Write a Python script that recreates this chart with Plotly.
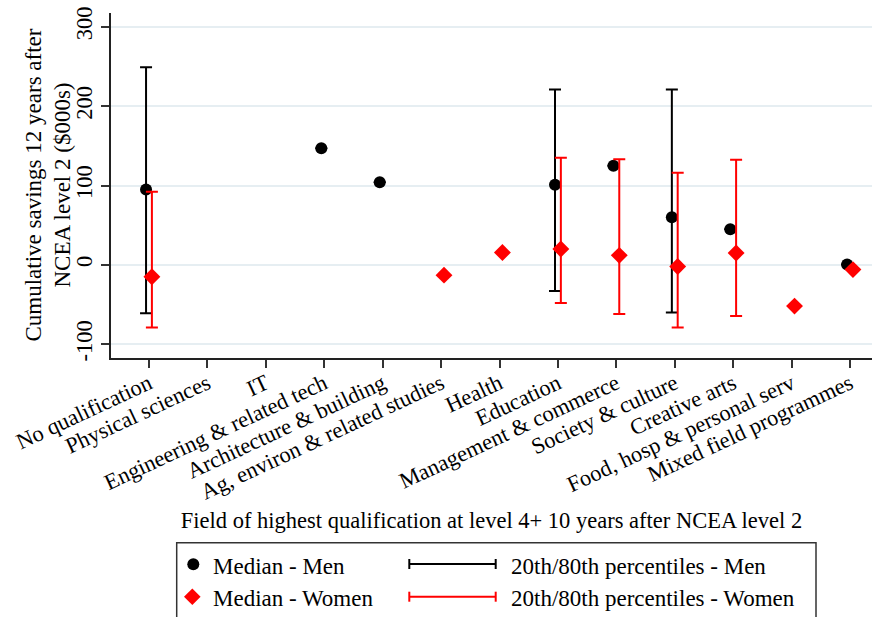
import plotly.graph_objects as go

categories = [
    "No qualification", "Physical sciences", "IT", "Engineering & related tech",
    "Architecture & building", "Ag, environ & related studies", "Health", "Education",
    "Management & commerce", "Society & culture", "Creative arts",
    "Food, hosp & personal serv", "Mixed field programmes",
]
men_median = [95, None, None, 147, 104, None, None, 101, 125, 60, 45, None, 0.5]
men_p20 = [-61, None, None, None, None, None, None, -33, None, -60, None, None, None]
men_p80 = [249, None, None, None, None, None, None, 221, None, 221, None, None, None]
women_median = [-15, None, None, None, None, -13, 15.5, 20, 12, -2, 15, -52, -6]
women_p20 = [-79, None, None, None, None, None, None, -48, -62, -79, -64.5, None, None]
women_p80 = [92, None, None, None, None, None, None, 135, 133, 116, 132.5, None, None]
ytick_vals = [-100, 0, 100, 200, 300]
ytick_text = ["-100", "0", "100", "200", "300"]

FONT = "Liberation Serif, Times New Roman, serif"
W, H = 872, 617
L, R, T, B = 111, 0, 13, 259
PW, PH = W - L - R, H - T - B


def px_x(px):
    return (px - L) / PW


def px_y(py):
    return (T + PH - py) / PH


def err(med, lo, hi):
    plus, minus = [], []
    for m, a, b in zip(med, lo, hi):
        if m is None or a is None or b is None:
            plus.append(None)
            minus.append(None)
        else:
            plus.append(b - m)
            minus.append(m - a)
    return plus, minus


xpos = list(range(1, len(categories) + 1))
men_x = [i - 0.05 for i in xpos]
women_x = [i + 0.05 for i in xpos]

mp, mm = err(men_median, men_p20, men_p80)
wp, wm = err(women_median, women_p20, women_p80)

fig = go.Figure()
fig.add_trace(go.Scatter(
    x=men_x, y=men_median, mode="markers", name="Median - Men",
    marker=dict(symbol="circle", size=12, color="black"),
    error_y=dict(type="data", array=mp, arrayminus=mm, symmetric=False,
                 color="black", thickness=2, width=6),
    showlegend=False,
))
fig.add_trace(go.Scatter(
    x=women_x, y=women_median, mode="markers", name="Median - Women",
    marker=dict(symbol="diamond", size=13, color="#ff0000"),
    error_y=dict(type="data", array=wp, arrayminus=wm, symmetric=False,
                 color="#ff0000", thickness=2, width=6),
    showlegend=False,
))

fig.update_layout(
    width=W, height=H,
    margin=dict(l=L, r=R, t=T, b=B, autoexpand=False),
    paper_bgcolor="white", plot_bgcolor="white",
    font=dict(family=FONT, size=23, color="black"),
    showlegend=False,
)
fig.update_xaxes(
    range=[0.35, 13.376], tickmode="array", tickvals=xpos, ticktext=categories,
    tickangle=-25, ticks="outside", ticklen=8, tickwidth=1.5, tickcolor="#333",
    ticklabelstandoff=-6,
    showline=True, linecolor="#222", linewidth=1.5, showgrid=False, zeroline=False,
    tickfont=dict(size=22.5, family=FONT),
    title=dict(text="Field of highest qualification at level 4+ 10 years after NCEA level 2",
               font=dict(size=22.5, family=FONT), standoff=9),
    automargin=False,
)
fig.update_yaxes(
    range=[-117.4, 317.4], tickmode="array", tickvals=ytick_vals, ticktext=ytick_text,
    tickangle=-90, ticks="outside", ticklen=8, tickwidth=1.5, tickcolor="#333",
    showline=True, linecolor="#222", linewidth=1.5,
    showgrid=True, gridcolor="#e6eef2", gridwidth=2, zeroline=False,
    tickfont=dict(size=22.5, family=FONT),
    automargin=False,
)

shapes = []
shapes.append(dict(type="rect", xref="paper", yref="paper",
                   x0=px_x(176.7), x1=px_x(816), y0=px_y(642), y1=px_y(542.7),
                   line=dict(color="#333", width=1.5), fillcolor="rgba(0,0,0,0)"))
cx, cy, r = 193.3, 564.3, 6
shapes.append(dict(type="circle", xref="paper", yref="paper",
                   x0=px_x(cx - r), x1=px_x(cx + r), y0=px_y(cy + r), y1=px_y(cy - r),
                   fillcolor="black", line=dict(color="black", width=0)))
dx, dy, d = 192.3, 596.7, 8.3
path = (f"M {px_x(dx - d)},{px_y(dy)} L {px_x(dx)},{px_y(dy - d)} "
        f"L {px_x(dx + d)},{px_y(dy)} L {px_x(dx)},{px_y(dy + d)} Z")
shapes.append(dict(type="path", xref="paper", yref="paper", path=path,
                   fillcolor="#ff0000", line=dict(color="#ff0000", width=0)))
for yy, col in [(564.0, "black"), (596.7, "#ff0000")]:
    shapes.append(dict(type="line", xref="paper", yref="paper",
                       x0=px_x(409.3), x1=px_x(495.7), y0=px_y(yy), y1=px_y(yy),
                       line=dict(color=col, width=2)))
    for xx in (409.3, 495.7):
        shapes.append(dict(type="line", xref="paper", yref="paper",
                           x0=px_x(xx), x1=px_x(xx), y0=px_y(yy - 5), y1=px_y(yy + 5),
                           line=dict(color=col, width=2)))

annotations = [dict(text="Cumulative savings 12 years after<br>NCEA level 2 ($000s)",
                    xref="paper", yref="paper", x=px_x(48), y=px_y(185.5),
                    xanchor="center", yanchor="middle", textangle=-90, showarrow=False,
                    font=dict(size=23, family=FONT, color="black"))]
for text, x, y in [("Median - Men", 210.7, 566), ("Median - Women", 210.7, 598),
                   ("20th/80th percentiles - Men", 509.3, 566),
                   ("20th/80th percentiles - Women", 509.3, 598)]:
    annotations.append(dict(text=text, xref="paper", yref="paper", x=px_x(x), y=px_y(y),
                            xanchor="left", yanchor="middle", showarrow=False,
                            font=dict(size=23, family=FONT, color="black")))

fig.update_layout(shapes=shapes, annotations=annotations)
fig.write_html("out.html")
